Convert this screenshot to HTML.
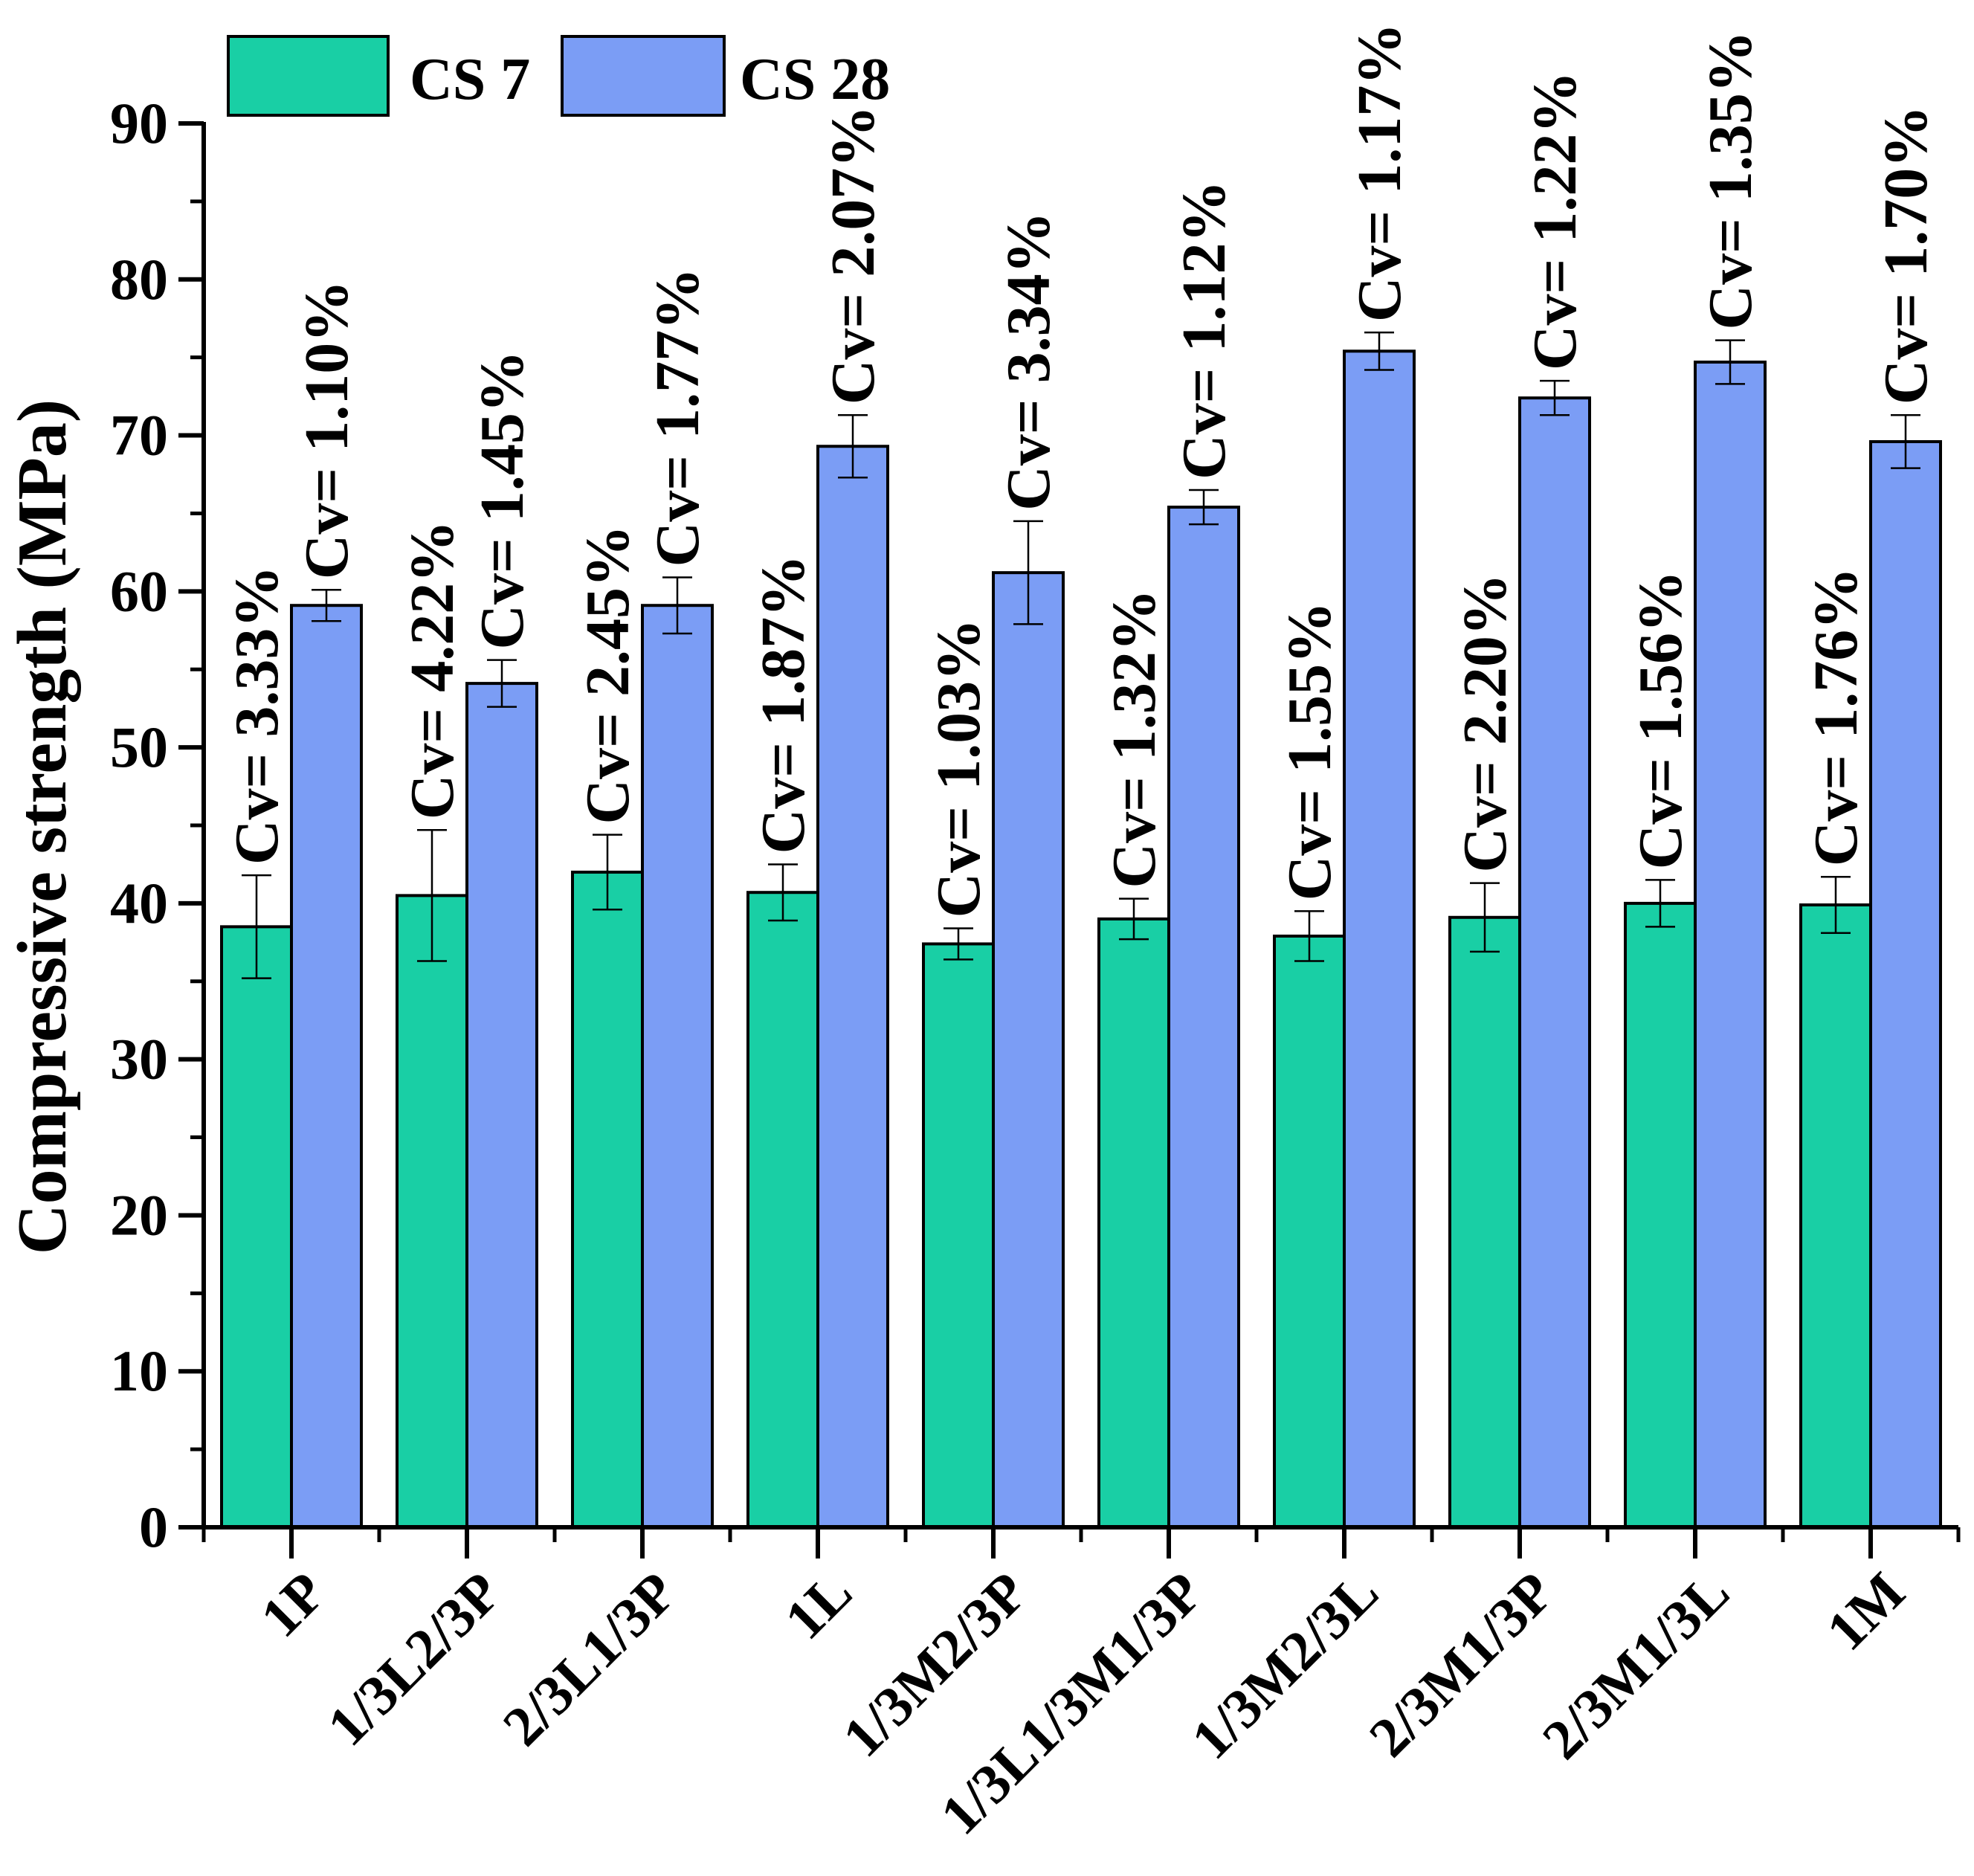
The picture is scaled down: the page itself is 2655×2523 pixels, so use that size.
<!DOCTYPE html>
<html><head><meta charset="utf-8"><style>
html,body{margin:0;padding:0;background:#fff}
svg{display:block}
svg text{font-family:"Liberation Serif","Times New Roman",serif;font-weight:bold}
</style></head><body>
<svg id="chart" width="2655" height="2523" viewBox="0 0 2655 2523" xmlns="http://www.w3.org/2000/svg" font-family="Liberation Serif, Times New Roman, serif" font-weight="bold">
<g id="plot"></g>
</svg>
<script>
const categories = ["1P","1/3L2/3P","2/3L1/3P","1L","1/3M2/3P","1/3L1/3M1/3P","1/3M2/3L","2/3M1/3P","2/3M1/3L","1M"];
const cs7 = [38.5,40.5,42.0,40.7,37.4,39.0,37.9,39.1,40.0,39.9];
const cs7Err = [3.3,4.2,2.4,1.8,1.0,1.3,1.6,2.2,1.5,1.8];
const cs28 = [59.1,54.1,59.1,69.3,61.2,65.4,75.4,72.4,74.7,69.6];
const cs28Err = [1.0,1.5,1.8,2.0,3.3,1.1,1.2,1.1,1.4,1.7];
const cv7 = ["3.33%","4.22%","2.45%","1.87%","1.03%","1.32%","1.55%","2.20%","1.56%","1.76%"];
const cv28 = ["1.10%","1.45%","1.77%","2.07%","3.34%","1.12%","1.17%","1.22%","1.35%","1.70%"];
const yTicks = [0,10,20,30,40,50,60,70,80,90];

const NS = "http://www.w3.org/2000/svg";
const g = document.getElementById("plot");
const X0 = 274, GROUP = 236, BW = 94, Y0 = 2054, Y90 = 166;
const FONT = "Liberation Serif, Times New Roman, serif";
const y = v => Y0 - (v / 90) * (Y0 - Y90);
const xc = i => X0 + GROUP / 2 + GROUP * i;
function mk(tag, attrs, parent) {
  const e = document.createElementNS(NS, tag);
  for (const k in attrs) e.setAttribute(k, attrs[k]);
  if (tag === "text") { e.setAttribute("font-family", FONT); e.setAttribute("font-weight", "bold"); }
  (parent || g).appendChild(e);
  return e;
}

function drawSeries(vals, errs, cvs, offset, color, name) {
  vals.forEach((v, i) => {
    const x = xc(i) + offset;
    const r = mk("rect", {x: x, y: y(v), width: BW, height: Y0 - y(v), fill: color, stroke: "#000", "stroke-width": 4});
    
    
    const cx = x + BW / 2, t = y(v + errs[i]), b = y(v - errs[i]);
    const eb = mk("path", {d: `M${cx},${t}V${b}M${cx-20},${t}H${cx+20}M${cx-20},${b}H${cx+20}`, stroke: "#000", "stroke-width": 2.5, fill: "none"});
    
    
    const tx = mk("text", {x: 0, y: 0, "font-size": 84, transform: `translate(${cx + 28},${t - 14}) rotate(-90)`});
    tx.textContent = "Cv= " + cvs[i];
    
    
  });
}
drawSeries(cs7, cs7Err, cv7, -BW, "#19cfa5", "cs7");
drawSeries(cs28, cs28Err, cv28, 0, "#7b9df5", "cs28");

const ax = mk("path", {d: `M${X0},${Y90-2}V${Y0}H${X0 + GROUP*10}`, stroke: "#000", "stroke-width": 6, fill: "none"});


yTicks.forEach((v, i) => {
  const tk = mk("line", {x1: X0 - 34, x2: X0, y1: y(v), y2: y(v), stroke: "#000", "stroke-width": 6});
  
  
  if (i < yTicks.length - 1) {
    const mt = mk("line", {x1: X0 - 18, x2: X0, y1: y(v + 5), y2: y(v + 5), stroke: "#000", "stroke-width": 5});
    
    
  }
  const lb = mk("text", {x: X0 - 48, y: y(v) + 26, "font-size": 78, "text-anchor": "end"});
  lb.textContent = v;
  
  
});
for (let i = 0; i <= 10; i++) {
  const mt = mk("line", {x1: X0 + GROUP*i, x2: X0 + GROUP*i, y1: Y0, y2: Y0 + 20, stroke: "#000", "stroke-width": 5});
  
  
}
categories.forEach((c, i) => {
  const tk = mk("line", {x1: xc(i), x2: xc(i), y1: Y0, y2: Y0 + 42, stroke: "#000", "stroke-width": 6});
  
  
  const lb = mk("text", {x: 0, y: 0, "font-size": 76, "text-anchor": "end", transform: `translate(${xc(i) + 50},${Y0 + 92}) rotate(-45)`});
  lb.textContent = c;
  
  
});

const yt = mk("text", {x: 0, y: 0, "font-size": 94, "text-anchor": "middle", transform: `translate(88,1112) rotate(-90)`});
yt.textContent = "Compressive strength (MPa)";



const lg = mk("g", {});


const l1 = mk("rect", {x: 307, y: 49, width: 215, height: 106, fill: "#19cfa5", stroke: "#000", "stroke-width": 4}, lg);


const t1 = mk("text", {x: 551, y: 133, "font-size": 80}, lg);
t1.textContent = "CS 7";


const l2 = mk("rect", {x: 756, y: 49, width: 218, height: 106, fill: "#7b9df5", stroke: "#000", "stroke-width": 4}, lg);


const t2 = mk("text", {x: 995, y: 133, "font-size": 80}, lg);
t2.textContent = "CS 28";


</script>
</body></html>
